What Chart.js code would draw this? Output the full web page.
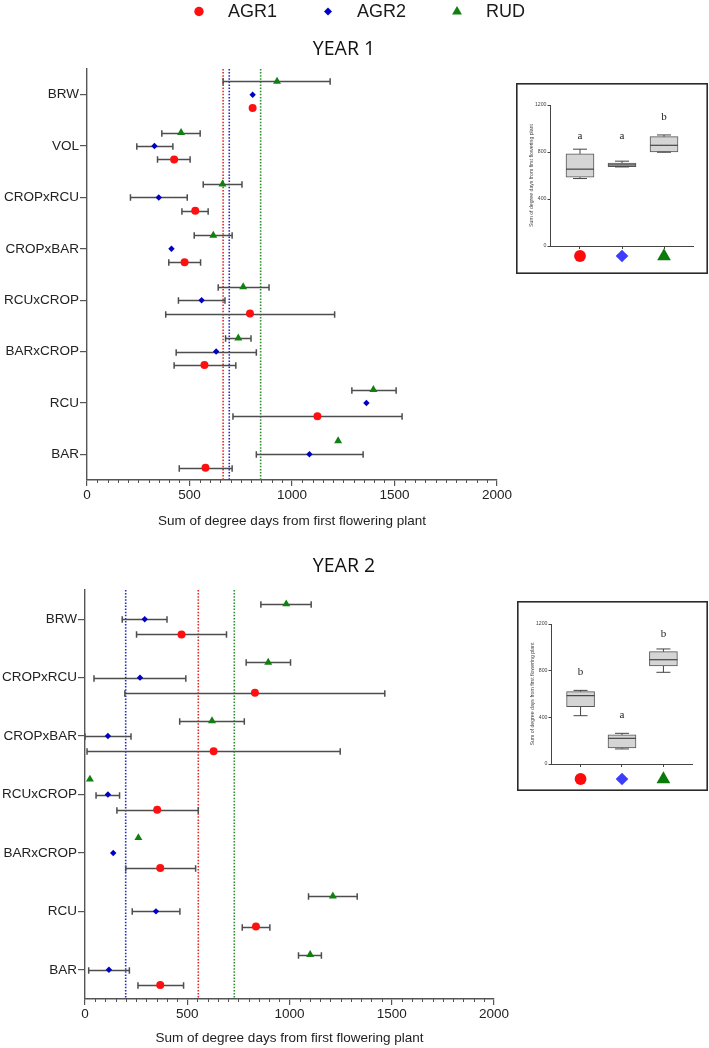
<!DOCTYPE html>
<html><head><meta charset="utf-8">
<script src="https://cdn.jsdelivr.net/npm/chart.js@4.4.1/dist/chart.umd.min.js"></script>
<style>
html,body{margin:0;padding:0;background:#fff;width:709px;height:1048px;overflow:hidden;position:relative}
canvas{position:absolute;display:block}
</style></head><body>
<canvas id="c1" width="709" height="535" style="left:0;top:0"></canvas>
<canvas id="c2" width="709" height="513" style="left:0;top:535px"></canvas>
<canvas id="b1" width="192" height="191" style="left:516px;top:83px"></canvas>
<canvas id="b2" width="191" height="190" style="left:517px;top:601px"></canvas>
<script>
// ---------------- DATA ----------------
const seriesNames = ['AGR1', 'AGR2', 'RUD'];
const xTicks = [0, 500, 1000, 1500, 2000];
const xTitle = 'Sum of degree days from first flowering plant';

// Year 1
const cats1 = ['BRW', 'VOL', 'CROPxRCU', 'CROPxBAR', 'RCUxCROP', 'BARxCROP', 'RCU', 'BAR'];
const y1_AGR1    = [808, 425, 528, 476, 795, 573, 1124, 578];
const y1_AGR1_lo = [null, 344, 463, 399, 384, 425, 712, 450];
const y1_AGR1_hi = [null, 503, 591, 554, 1208, 726, 1537, 708];
const y1_AGR2    = [808, 329, 350, 412, 559, 630, 1363, 1085];
const y1_AGR2_lo = [null, 243, 212, null, 446, 435, null, 826];
const y1_AGR2_hi = [null, 419, 489, null, 673, 826, null, 1347];
const y1_RUD     = [927, 459, 661, 616, 762, 738, 1397, 1225];
const y1_RUD_lo  = [664, 365, 567, 523, 640, 676, 1292, null];
const y1_RUD_hi  = [1186, 552, 756, 708, 888, 800, 1508, null];
const y1_means   = [664, 694, 847];   // AGR1, AGR2, RUD

// Year 2
const cats2 = ['BRW', 'CROPxRCU', 'CROPxBAR', 'RCUxCROP', 'BARxCROP', 'RCU', 'BAR'];
const y2_AGR1    = [472, 831, 629, 353, 368, 836, 368];
const y2_AGR1_lo = [252, 195, 10, 156, 199, 769, 259];
const y2_AGR1_hi = [692, 1466, 1248, 554, 541, 904, 482];
const y2_AGR2    = [292, 269, 112, 112, 138, 347, 117];
const y2_AGR2_lo = [182, 44, 0, 54, null, 231, 18];
const y2_AGR2_hi = [401, 493, 225, 169, null, 464, 217];
const y2_RUD     = [984, 896, 621, 24, 261, 1212, 1101];
const y2_RUD_lo  = [860, 788, 463, null, null, 1093, 1044];
const y2_RUD_hi  = [1106, 1005, 779, null, null, 1331, 1156];
const y2_means   = [554, 199, 730];

// Inset box plots
const boxTicks = [0, 400, 800, 1200];
const boxTitle = 'Sum of degree days from first flowering plant';
const box1_min = [574, 673, 798];
const box1_q1  = [586, 676, 801];
const box1_med = [654, 690, 857];
const box1_q3  = [784, 705, 931];
const box1_max = [824, 722, 945];
const box1_letters = ['a', 'a', 'b'];
const box1_letterY = [937, 937, 1095];
const box2_min = [414, 129, 786];
const box2_q1  = [491, 137, 840];
const box2_med = [586, 220, 894];
const box2_q3  = [620, 249, 963];
const box2_max = [631, 263, 986];
const box2_letters = ['b', 'a', 'b'];
const box2_letterY = [786, 423, 1117];

// ---------------- STYLE ----------------
const seriesColors = ['#ff1010', '#0000c4', '#108010'];
const insetColors  = ['#ff0a0a', '#3c3cff', '#0a7a0a'];
const meanColors   = ['#e02828', '#2828c0', '#28902a'];
const pointStyles  = ['circle', 'rectRot', 'triangle'];
const axisColor = '#555';
const SANS = "'Liberation Sans', Arial, sans-serif";
Chart.defaults.font.family = SANS;
Chart.defaults.color = '#222';

function drawMarker(ctx, style, x, y, r, color) {
  ctx.save();
  ctx.fillStyle = color;
  ctx.beginPath();
  if (style === 'circle') ctx.arc(x, y, r, 0, Math.PI * 2);
  else if (style === 'rectRot') { ctx.moveTo(x - r, y); ctx.lineTo(x, y - r); ctx.lineTo(x + r, y); ctx.lineTo(x, y + r); ctx.closePath(); }
  else { ctx.moveTo(x, y - r); ctx.lineTo(x + r * 0.88, y + r * 0.55); ctx.lineTo(x - r * 0.88, y + r * 0.55); ctx.closePath(); }
  ctx.fill();
  ctx.restore();
}

// ---------------- PLUGINS ----------------
const errorBarPlugin = {
  id: 'errorBars',
  beforeDatasetDraw(chart, args, o) {
    const ds = chart.data.datasets[args.index];
    if (!ds.errLo) return;
    const ctx = chart.ctx, xs = chart.scales.x, ys = chart.scales.y, ca = chart.chartArea;
    ctx.save();
    ctx.beginPath(); ctx.rect(ca.left, ca.top - 6, ca.right - ca.left + 20, ca.bottom - ca.top + 12); ctx.clip();
    ctx.strokeStyle = o.color; ctx.lineWidth = o.width;
    ds.data.forEach((p, i) => {
      const lo = ds.errLo[i], hi = ds.errHi[i];
      if (lo == null || hi == null || !p) return;
      const y = Math.round(ys.getPixelForValue(p.y)) + 0.5;
      const x0 = xs.getPixelForValue(lo), x1 = xs.getPixelForValue(hi);
      ctx.beginPath();
      ctx.moveTo(x0, y); ctx.lineTo(x1, y);
      ctx.moveTo(x0, y - o.cap); ctx.lineTo(x0, y + o.cap);
      ctx.moveTo(x1, y - o.cap); ctx.lineTo(x1, y + o.cap);
      ctx.stroke();
    });
    ctx.restore();
  }
};

const minorTickPlugin = {
  id: 'minorTicks',
  afterDraw(chart, args, o) {
    if (!o || !o.step) return;
    const xs = chart.scales.x, ctx = chart.ctx, b = chart.chartArea.bottom;
    ctx.save(); ctx.strokeStyle = axisColor; ctx.lineWidth = 1;
    for (let v = xs.min; v <= xs.max; v += o.step) {
      if (v % o.major === 0) continue;
      const x = Math.round(xs.getPixelForValue(v)) + 0.5;
      ctx.beginPath(); ctx.moveTo(x, b); ctx.lineTo(x, b + o.len); ctx.stroke();
    }
    ctx.restore();
  }
};

const textTitlePlugin = {
  id: 'yearTitle',
  afterDraw(chart, args, o) {
    if (!o || !o.text) return;
    const ctx = chart.ctx;
    ctx.save(); ctx.font = o.font; ctx.fillStyle = o.color;
    ctx.textAlign = 'center'; ctx.textBaseline = 'middle';
    ctx.fillText(o.text, o.x, o.y);
    ctx.restore();
  }
};

const legendPlugin = {
  id: 'markerLegend',
  afterDraw(chart, args, o) {
    if (!o || !o.display) return;
    const ctx = chart.ctx;
    const items = chart.data.datasets.filter(d => d.inLegend);
    ctx.save(); ctx.font = o.font;
    const tw = items.map(d => ctx.measureText(d.label).width);
    let span = 0;
    tw.forEach((w, i) => { span += o.gap + w + (i < tw.length - 1 ? o.spacing : 0); });
    let x = o.centerX - span / 2;
    items.forEach((d, i) => {
      drawMarker(ctx, d.pointStyle, x, o.y, o.radii[i], d.pointBackgroundColor);
      ctx.fillStyle = '#1a1a1a'; ctx.textAlign = 'left'; ctx.textBaseline = 'middle';
      ctx.fillText(d.label, x + o.gap, o.y + 0.5);
      x += o.gap + tw[i] + o.spacing;
    });
    ctx.restore();
  }
};

const boxPlugin = {
  id: 'boxDetails',
  afterDatasetsDraw(chart, args, o) {
    const ds = chart.data.datasets[0];
    const ctx = chart.ctx, xs = chart.scales.x, ys = chart.scales.y, ca = chart.chartArea;
    ctx.save();
    ctx.strokeStyle = '#444'; ctx.lineWidth = 1;
    ds.data.forEach((p, i) => {
      const x = xs.getPixelForValue(p.x);
      const half = o.boxHalf, cap = o.capHalf;
      const yMin = ys.getPixelForValue(ds.wMin[i]), yMax = ys.getPixelForValue(ds.wMax[i]);
      const yQ1 = ys.getPixelForValue(p.y[0]), yQ3 = ys.getPixelForValue(p.y[1]);
      const yMed = ys.getPixelForValue(ds.wMed[i]);
      ctx.beginPath();
      ctx.moveTo(x, yQ3); ctx.lineTo(x, yMax);
      ctx.moveTo(x - cap, yMax); ctx.lineTo(x + cap, yMax);
      ctx.moveTo(x, yQ1); ctx.lineTo(x, yMin);
      ctx.moveTo(x - cap, yMin); ctx.lineTo(x + cap, yMin);
      ctx.stroke();
      ctx.beginPath(); ctx.lineWidth = 1.2;
      ctx.moveTo(x - half, yMed); ctx.lineTo(x + half, yMed); ctx.stroke();
      ctx.lineWidth = 1;
      // letters
      ctx.fillStyle = '#222'; ctx.font = o.letterFont; ctx.textAlign = 'center'; ctx.textBaseline = 'middle';
      ctx.fillText(ds.letters[i], x, ys.getPixelForValue(ds.letterY[i]));
      // category markers
      drawMarker(ctx, pointStyles[i], x, ca.bottom + o.markerOffset, o.markerR[i], insetColors[i]);
    });
    ctx.restore();
  },
  afterDraw(chart) {
    const ctx = chart.ctx;
    ctx.save(); ctx.strokeStyle = '#2a2a2a'; ctx.lineWidth = 1.6;
    ctx.strokeRect(0.8, 0.8, chart.width - 1.6, chart.height - 1.6);
    ctx.restore();
  }
};

Chart.register(errorBarPlugin, minorTickPlugin, textTitlePlugin, legendPlugin);

// ---------------- MAIN CHARTS ----------------
function makeMain(id, cats, vals, los, his, means, o) {
  const offs = [0.26, 0, -0.26];
  const radii = [4, 3.2, 4.6];
  const datasets = [];
  means.forEach((m, k) => datasets.push({
    type: 'line', label: seriesNames[k] + ' mean',
    data: [{ x: m, y: -0.5 }, { x: m, y: cats.length - 0.5 }],
    borderColor: meanColors[k], borderWidth: 1.6, borderDash: [1.5, 1.6],
    pointRadius: 0, showLine: true, fill: false, order: 10
  }));
  vals.forEach((v, k) => datasets.push({
    type: 'scatter', label: seriesNames[k], inLegend: true,
    data: cats.map((c, i) => ({ x: v[i], y: i + offs[k] })),
    errLo: los[k], errHi: his[k],
    pointStyle: pointStyles[k], pointRadius: radii[k],
    pointBackgroundColor: seriesColors[k], pointBorderWidth: 0, order: 1 + k
  }));
  return new Chart(document.getElementById(id), {
    type: 'scatter',
    data: { datasets },
    options: {
      responsive: false, animation: false, events: [],
      layout: { padding: { top: o.padTop, left: 0, right: 0, bottom: 0 } },
      plugins: {
        legend: { display: false }, tooltip: { enabled: false },
        errorBars: { color: '#4d4d4d', width: 1.5, cap: 3.3 },
        minorTicks: { step: 50, major: 500, len: 3 },
        yearTitle: { text: o.title, x: 344, y: o.titleY, font: "19.5px 'Open Sans', sans-serif", color: '#111' },
        markerLegend: o.legend ? { display: true, centerX: 362, y: 11.5, gap: 29, spacing: 51, radii: [4.7, 4, 5.6], font: '18px ' + SANS } : { display: false }
      },
      scales: {
        x: {
          type: 'linear', position: 'bottom', min: 0, max: 2000,
          afterBuildTicks: s => { s.ticks = xTicks.map(v => ({ value: v })); },
          ticks: { font: { size: 13.5 }, color: '#222', padding: 1, maxRotation: 0, callback: v => String(v) },
          grid: { drawOnChartArea: false, drawTicks: true, tickLength: 6, color: axisColor, lineWidth: 1.2 },
          border: { color: axisColor, width: 1.4 },
          title: { display: true, text: xTitle, font: { size: 13.5 }, color: '#222', padding: { top: 0, bottom: o.xTitlePad } },
          afterFit: s => { s.height = o.xAxisH; }
        },
        y: {
          type: 'linear', position: 'left', reverse: true, min: -0.5, max: cats.length - 0.5,
          afterBuildTicks: s => { s.ticks = cats.map((c, i) => ({ value: i })); },
          ticks: { callback: v => cats[v], font: { size: 13.5 }, color: '#222', padding: 1, autoSkip: false },
          grid: { drawOnChartArea: false, drawTicks: true, tickLength: 7, color: axisColor, lineWidth: 1.2 },
          border: { color: axisColor, width: 1.4 },
          afterFit: s => { s.width = o.yAxisW; }
        },
        yR: {
          type: 'linear', position: 'right', display: true,
          grid: { display: false }, border: { display: false }, ticks: { display: false },
          afterFit: s => { s.width = o.rightW; }
        }
      }
    }
  });
}

makeMain('c1', cats1,
  [y1_AGR1, y1_AGR2, y1_RUD], [y1_AGR1_lo, y1_AGR2_lo, y1_RUD_lo], [y1_AGR1_hi, y1_AGR2_hi, y1_RUD_hi], y1_means,
  { padTop: 69, xAxisH: 55, xTitlePad: 6, yAxisW: 87, rightW: 212, title: 'YEAR 1', titleY: 49, legend: true });

makeMain('c2', cats2,
  [y2_AGR1, y2_AGR2, y2_RUD], [y2_AGR1_lo, y2_AGR2_lo, y2_RUD_lo], [y2_AGR1_hi, y2_AGR2_hi, y2_RUD_hi], y2_means,
  { padTop: 55, xAxisH: 49, xTitlePad: 1.5, yAxisW: 85, rightW: 215, title: 'YEAR 2', titleY: 31, legend: false });

// ---------------- INSET BOX PLOTS ----------------
function makeBox(id, mins, q1s, meds, q3s, maxs, letters, letterY, o) {
  return new Chart(document.getElementById(id), {
    type: 'bar',
    data: {
      datasets: [{
        data: seriesNames.map((n, i) => ({ x: i, y: [q1s[i], q3s[i]] })),
        wMin: mins, wMed: meds, wMax: maxs, letters, letterY,
        backgroundColor: '#d5d5d5', borderColor: '#555', borderWidth: 1, borderSkipped: false,
        barThickness: 28
      }]
    },
    plugins: [boxPlugin],
    options: {
      responsive: false, animation: false, events: [],
      layout: { padding: { top: o.padTop, right: o.padRight, left: 0, bottom: 0 } },
      plugins: {
        legend: { display: false }, tooltip: { enabled: false },
        boxDetails: { boxHalf: 14, capHalf: 7, letterFont: "11px 'Liberation Serif', 'DejaVu Serif', serif", markerOffset: o.markerOffset, markerR: [5.9, 6.3, 7.8] },
        errorBars: false, minorTicks: false, yearTitle: false, markerLegend: false
      },
      scales: {
        x: {
          type: 'linear', min: -0.714, max: 2.69, offset: false,
          afterBuildTicks: s => { s.ticks = seriesNames.map((n, i) => ({ value: i })); },
          ticks: { display: false },
          grid: { drawOnChartArea: false, drawTicks: true, tickLength: 3, color: '#444', offset: false },
          border: { color: '#444', width: 1 },
          afterFit: s => { s.height = o.xAxisH; }
        },
        y: {
          type: 'linear', min: 0, max: 1200,
          afterBuildTicks: s => { s.ticks = boxTicks.map(v => ({ value: v })); },
          ticks: { font: { size: 5.2 }, color: '#444', padding: 1, callback: v => String(v) },
          grid: { drawOnChartArea: false, drawTicks: true, tickLength: 2.5, color: '#444' },
          border: { color: '#444', width: 1 },
          title: { display: true, text: boxTitle, font: { size: 5.2 }, color: '#444', padding: { top: 12, bottom: 0 } },
          afterFit: s => { s.width = 34; }
        }
      }
    }
  });
}

makeBox('b1', box1_min, box1_q1, box1_med, box1_q3, box1_max, box1_letters, box1_letterY,
  { padTop: 22, padRight: 15, xAxisH: 28, markerOffset: 10 });
makeBox('b2', box2_min, box2_q1, box2_med, box2_q3, box2_max, box2_letters, box2_letterY,
  { padTop: 23, padRight: 16, xAxisH: 27, markerOffset: 15 });
</script>
</body></html>
